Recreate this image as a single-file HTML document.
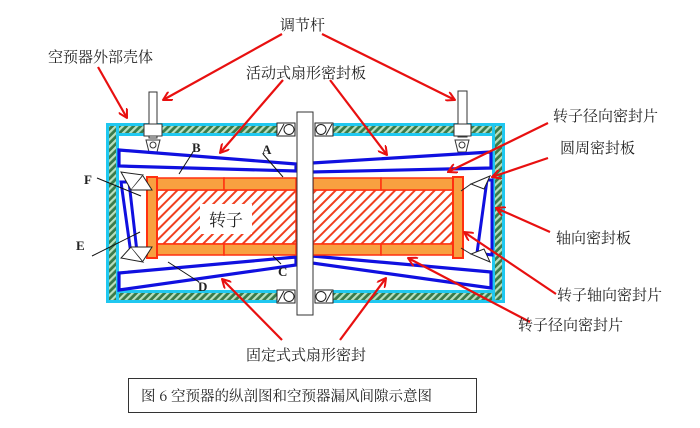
<!DOCTYPE html>
<html><head><meta charset="utf-8"><style>
html,body{margin:0;padding:0;background:#fff;}
svg{display:block;}
text{font-family:"Liberation Serif","Noto Serif CJK SC",serif;fill:#222;}
.cj{font-family:"Noto Serif CJK SC","Liberation Serif",serif;}
</style></head><body>
<svg width="700" height="428" viewBox="0 0 700 428" xmlns="http://www.w3.org/2000/svg">
<defs>
<pattern id="gh" width="5" height="5" patternUnits="userSpaceOnUse" patternTransform="rotate(45)">
<rect width="5" height="5" fill="#3a7a4a"/><rect width="2.2" height="5" fill="#b8e0c0"/>
</pattern>
<pattern id="rh" width="7" height="7" patternUnits="userSpaceOnUse" patternTransform="rotate(45)">
<rect width="7" height="7" fill="#fff"/><rect width="2" height="7" fill="#f04020"/>
</pattern>
<marker id="ar" markerWidth="10" markerHeight="10" refX="9" refY="5" orient="auto" markerUnits="userSpaceOnUse">
<path d="M0,0 L9,5 L0,10" fill="none" stroke="#e81010" stroke-width="2"/>
</marker>
</defs>

<g>
<rect x="106" y="123" width="171" height="13" fill="#20c8f0"/>
<rect x="110" y="126" width="167" height="7" fill="url(#gh)"/>
<rect x="333" y="123" width="172" height="13" fill="#20c8f0"/>
<rect x="333" y="126" width="168" height="7" fill="url(#gh)"/>
<rect x="106" y="290" width="171" height="13" fill="#20c8f0"/>
<rect x="110" y="293" width="167" height="7" fill="url(#gh)"/>
<rect x="333" y="290" width="172" height="13" fill="#20c8f0"/>
<rect x="333" y="293" width="168" height="7" fill="url(#gh)"/>
<rect x="106" y="123" width="13" height="180" fill="#20c8f0"/>
<rect x="109" y="126" width="7" height="174" fill="url(#gh)"/>
<rect x="492" y="123" width="13" height="180" fill="#20c8f0"/>
<rect x="495" y="126" width="7" height="174" fill="url(#gh)"/>
<rect x="119" y="136" width="373" height="154" fill="#fff"/>
</g>

<g stroke="#222" stroke-width="1" fill="#fff">
<rect x="277" y="123" width="18" height="13"/><circle cx="289" cy="129.5" r="5"/><line x1="278" y1="135" x2="284" y2="124"/>
<rect x="315" y="123" width="18" height="13"/><circle cx="321" cy="129.5" r="5"/><line x1="326" y1="135" x2="332" y2="124"/>
<rect x="277" y="290" width="18" height="13"/><circle cx="289" cy="296.5" r="5"/><line x1="278" y1="302" x2="284" y2="291"/>
<rect x="315" y="290" width="18" height="13"/><circle cx="321" cy="296.5" r="5"/><line x1="326" y1="302" x2="332" y2="291"/>
</g>

<g stroke="#333" stroke-width="1" fill="#fff">
<rect x="149" y="92" width="8" height="46"/>
<rect x="144" y="124" width="18" height="12"/>
<path d="M146,140 L160,140 L157,152 L149,152 Z"/><circle cx="153" cy="145" r="3"/>
<rect x="458" y="91" width="9" height="46"/>
<rect x="454" y="124" width="17" height="12"/>
<path d="M455,140 L469,140 L466,152 L458,152 Z"/><circle cx="462" cy="145" r="3"/>
</g>

<g stroke="#1010e0" stroke-width="3.2" fill="#fff" stroke-linejoin="miter">
<path d="M119,150 L296,164 L296,171 L119,166 Z"/>
<path d="M312,163 L491,152 L491,168 L312,172 Z"/>
<path d="M119,273 L296,257 L296,265 L119,290 Z"/>
<path d="M312,256 L491,272 L491,288 L312,263 Z"/>
</g>

<g stroke="#ff3010" stroke-width="1.5">
<rect x="157" y="190" width="139" height="54" fill="url(#rh)"/>
<rect x="313" y="190" width="140" height="54" fill="url(#rh)"/>
<rect x="157" y="178" width="67" height="12" fill="#f8a040"/>
<rect x="224" y="178" width="72" height="12" fill="#f8a040"/>
<rect x="313" y="178" width="68" height="12" fill="#f8a040"/>
<rect x="381" y="178" width="72" height="12" fill="#f8a040"/>
<rect x="157" y="244" width="67" height="11" fill="#f8a040"/>
<rect x="224" y="244" width="72" height="11" fill="#f8a040"/>
<rect x="313" y="244" width="68" height="11" fill="#f8a040"/>
<rect x="381" y="244" width="72" height="11" fill="#f8a040"/>
<rect x="147" y="177" width="10" height="81" fill="#f8a040" stroke-width="2"/>
<rect x="453" y="177" width="10" height="81" fill="#f8a040" stroke-width="2"/>
</g>
<rect x="200" y="204" width="52" height="30" fill="#fff"/>
<text class="cj" x="226" y="226" font-size="17" text-anchor="middle">转子</text>

<rect x="297" y="112" width="16" height="203" fill="#fff" stroke="#333" stroke-width="1"/>

<g stroke="#1010e0" stroke-width="3" fill="none">
<path d="M121,182 L129,182 L137,252 L131,254 Z"/>
<path d="M487,180 L492,180 L492,255 L477,253 Z"/>
</g>
<g stroke="#222" stroke-width="1" fill="#fff">
<path d="M121,172 L143,175 L131,190 Z"/><path d="M131,190 L152,190 L143,176"/>
<path d="M121,258 L143,262 L131,247 Z"/><path d="M131,247 L152,247 L143,261"/>
<path d="M490,176 L471,184 L484,189 Z"/><path d="M471,184 L461,191"/>
<path d="M490,262 L471,254 L484,249 Z"/><path d="M471,254 L461,248"/>
</g>

<g stroke="#111" stroke-width="1">
<line x1="193" y1="152" x2="179" y2="174"/>
<line x1="263" y1="154" x2="283" y2="177"/>
<line x1="97" y1="178" x2="141" y2="196"/>
<line x1="92" y1="256" x2="140" y2="232"/>
<line x1="199" y1="282" x2="168" y2="262"/>
<line x1="281" y1="264" x2="273" y2="256"/>
</g>
<g font-size="13" font-weight="bold">
<text x="192" y="152">B</text>
<text x="262" y="154">A</text>
<text x="84" y="184">F</text>
<text x="76" y="250">E</text>
<text x="198" y="291">D</text>
<text x="278" y="276">C</text>
</g>

<g stroke="#e81010" stroke-width="2.2" fill="none" marker-end="url(#ar)">
<line x1="282" y1="34" x2="163" y2="100"/>
<line x1="322" y1="34" x2="455" y2="100"/>
<line x1="98" y1="67" x2="127" y2="118"/>
<line x1="283" y1="80" x2="220" y2="153"/>
<line x1="330" y1="80" x2="387" y2="155"/>
<line x1="548" y1="123" x2="448" y2="172"/>
<line x1="548" y1="158" x2="492" y2="177"/>
<line x1="550" y1="232" x2="496" y2="208"/>
<line x1="556" y1="294" x2="464" y2="232"/>
<line x1="530" y1="322" x2="408" y2="258"/>
<line x1="282" y1="340" x2="222" y2="279"/>
<line x1="340" y1="340" x2="386" y2="278"/>
</g>

<g font-size="15" class="cj">
<text x="280" y="30">调节杆</text>
<text x="48" y="62">空预器外部壳体</text>
<text x="246" y="78">活动式扇形密封板</text>
<text x="553" y="121">转子径向密封片</text>
<text x="560" y="153">圆周密封板</text>
<text x="556" y="243">轴向密封板</text>
<text x="557" y="300">转子轴向密封片</text>
<text x="518" y="330">转子径向密封片</text>
<text x="246" y="360">固定式式扇形密封</text>
</g>

<rect x="128.5" y="378.5" width="348" height="34" fill="#fff" stroke="#333" stroke-width="1"/>
<text class="cj" x="141" y="401" font-size="14.5">图 6  空预器的纵剖图和空预器漏风间隙示意图</text>
</svg>
</body></html>
